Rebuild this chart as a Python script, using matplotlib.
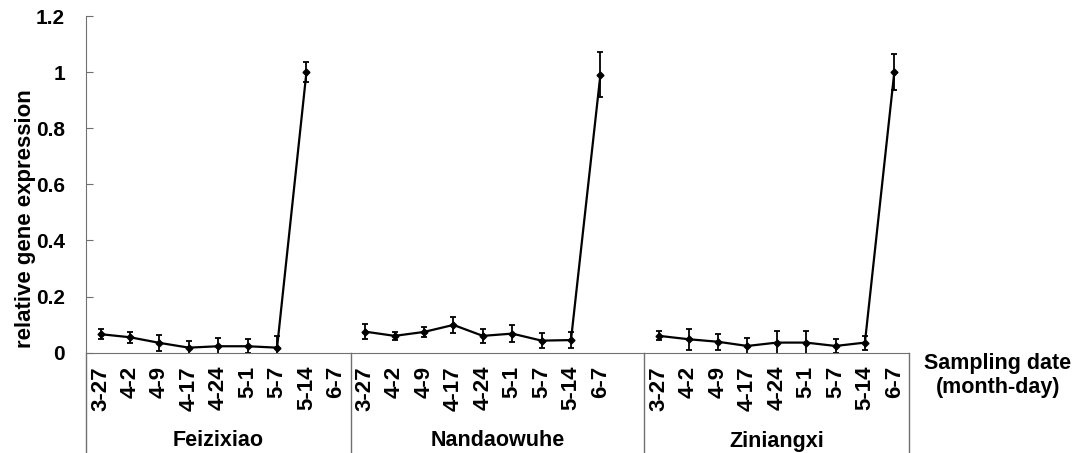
import numpy as np
import matplotlib
matplotlib.use('Agg')
import matplotlib.pyplot as plt
import matplotlib.transforms as mtransforms

plt.rcParams['font.family'] = ['Liberation Sans', 'DejaVu Sans']
plt.rcParams['font.weight'] = 'bold'

# data
dates = ['3-27', '4-2', '4-9', '4-17', '4-24', '5-1', '5-7', '5-14', '6-7']
groups = ['Feizixiao', 'Nandaowuhe', 'Ziniangxi']

feizixiao = [0.066, 0.055, 0.035, 0.018, 0.023, 0.023, 0.018, 1.0, np.nan]
feizixiao_err = [0.018, 0.020, 0.028, 0.023, 0.030, 0.025, 0.040, 0.037, np.nan]
nandaowuhe = [0.075, 0.060, 0.074, 0.099, 0.060, 0.068, 0.043, 0.045, 0.99]
nandaowuhe_err = [0.027, 0.015, 0.018, 0.028, 0.025, 0.031, 0.027, 0.027, 0.080]
ziniangxi = [0.060, 0.048, 0.039, 0.024, 0.036, 0.036, 0.024, 0.036, 1.0]
ziniangxi_err = [0.016, 0.038, 0.029, 0.030, 0.040, 0.040, 0.026, 0.025, 0.063]

yticks = [0, 0.2, 0.4, 0.6, 0.8, 1.0, 1.2]
ytick_labels = ['0', '0.2', '0.4', '0.6', '0.8', '1', '1.2']

# category slots: 9 + 10 (one blank) + 9
group_start = [0, 9, 19]
group_size = [9, 10, 9]
n_slots = 28

fig = plt.figure(figsize=(10.76, 4.53), dpi=100)
ax = fig.add_axes([86/1076, 100.3/453, 823/1076, 336.7/453])

axis_col = '#707070'
series = [(feizixiao, feizixiao_err), (nandaowuhe, nandaowuhe_err), (ziniangxi, ziniangxi_err)]
for (vals, errs), start in zip(series, group_start):
    x = np.arange(len(vals)) + start
    ax.errorbar(x, vals, yerr=errs, color='black', lw=1.6, marker='D', ms=3.5,
                elinewidth=1.3, capsize=2.5, capthick=1.3)

ax.set_xlim(-0.5, n_slots - 0.5)
ax.set_ylim(0, 1.2)
ax.set_yticks(yticks)
ax.set_yticklabels(ytick_labels, fontsize=15, fontweight='bold')
ax.tick_params(axis='y', direction='in', length=5, color=axis_col, pad=15)
ax.set_xticks([])
for s in ['top', 'right']:
    ax.spines[s].set_visible(False)
ax.spines['left'].set_color(axis_col)
ax.spines['bottom'].set_color(axis_col)

# multi-level category axis below the plot
trans = mtransforms.blended_transform_factory(ax.transData, fig.transFigure)
y_axis_fig = 100.3/453
dividers = [-0.5] + [s + n - 0.5 for s, n in zip(group_start, group_size)]
for d in dividers:
    ax.plot([d, d], [y_axis_fig, 0], transform=trans, color=axis_col, lw=1, clip_on=False)

for start, name, size in zip(group_start, groups, group_size):
    for i, d in enumerate(dates):
        ax.text(start + i, (453-366)/453, d, transform=trans, rotation=90,
                ha='center', va='top', fontsize=16, fontweight='bold')
    ax.text(start + (size - 1)/2, (453-446.5)/453, name, transform=trans,
            ha='center', va='baseline', fontsize=15.5, fontweight='bold')

fig.text(998/1076, (453-353)/453, 'Sampling date\n(month-day)', ha='center', va='top',
         fontsize=15.5, fontweight='bold', linespacing=1.2)
fig.text(26/1076, (453-218.5)/453, 'relative gene expression', rotation=90,
         ha='center', va='center', fontsize=16, fontweight='bold')

fig.savefig('out.png', dpi=100)
